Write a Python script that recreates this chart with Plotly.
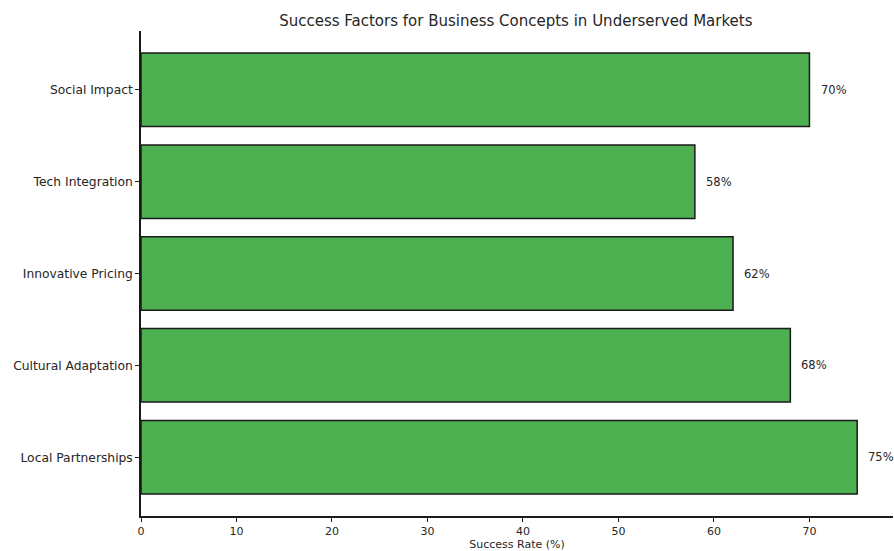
import plotly.graph_objects as go

categories = ["Local Partnerships", "Cultural Adaptation", "Innovative Pricing", "Tech Integration", "Social Impact"]
success_rates = [75, 68, 62, 58, 70]
tick_vals = [0, 10, 20, 30, 40, 50, 60, 70]
title_text = "Success Factors for Business Concepts in Underserved Markets"
x_title = "Success Rate (%)"

FONT = "DejaVu Sans, Verdana, sans-serif"
TXT = "#262626"

fig = go.Figure()
fig.add_trace(go.Bar(
    x=success_rates,
    y=list(range(len(categories))),
    orientation="h",
    width=0.8,
    marker=dict(color="#4CAF50", line=dict(color="#1a1a1a", width=1.5)),
    hoverinfo="x+y",
))

for i, v in enumerate(success_rates):
    fig.add_annotation(x=v + 0.95, y=i, text=f"{v}%", showarrow=False,
                       xanchor="left", yanchor="middle",
                       font=dict(family=FONT, size=11.5, color=TXT))

fig.update_layout(
    width=894, height=551,
    margin=dict(l=141, r=1, t=31, b=33),
    paper_bgcolor="white", plot_bgcolor="white",
    showlegend=False,
    bargap=0.2,
    title=dict(text=title_text, x=0.577, xanchor="center", y=0.962, yanchor="middle",
               font=dict(family=FONT, size=15, color=TXT)),
    font=dict(family=FONT, size=11, color=TXT),
)
fig.update_xaxes(
    range=[0, 78.75], tickvals=tick_vals, ticktext=[str(t) for t in tick_vals],
    showgrid=False, zeroline=False,
    showline=True, linecolor="#1a1a1a", linewidth=1.5,
    ticks="outside", ticklen=4, tickcolor="#1a1a1a",
    tickfont=dict(family=FONT, size=11, color=TXT),
    title=dict(text=x_title, font=dict(family=FONT, size=11, color=TXT), standoff=4),
)
fig.update_yaxes(
    range=[-0.64, 4.64], tickvals=list(range(len(categories))), ticktext=categories,
    showgrid=False, zeroline=False,
    showline=True, linecolor="#1a1a1a", linewidth=1.5,
    ticks="outside", ticklen=4, tickcolor="#1a1a1a",
    tickfont=dict(family=FONT, size=12.3, color=TXT),
)

fig.write_html("out.html")
